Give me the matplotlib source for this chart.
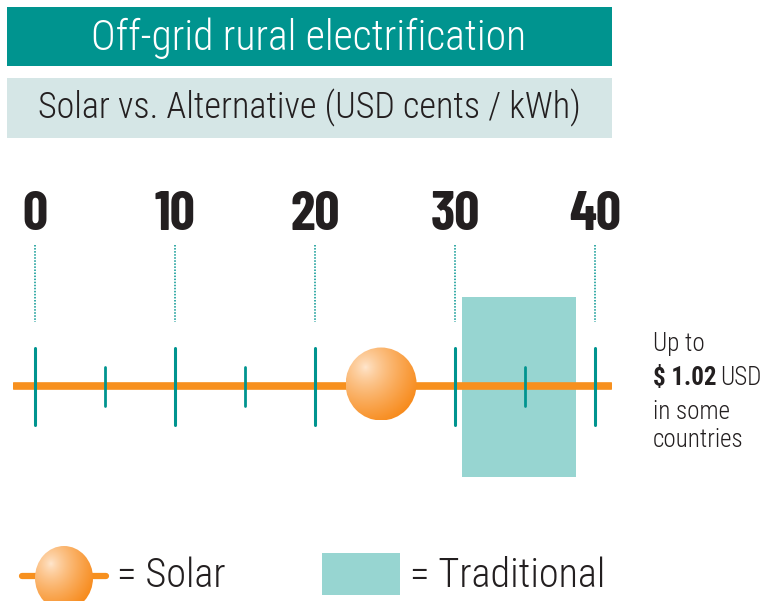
import numpy as np
import matplotlib
matplotlib.use("Agg")
import matplotlib.pyplot as plt
from matplotlib.patches import Rectangle, Ellipse

plt.rcParams['font.family'] = ['Roboto Condensed', 'DejaVu Sans']
num_font = ['Barlow Condensed', 'Roboto Condensed', 'DejaVu Sans']

# data
title = "Off-grid rural electrification"
subtitle = "Solar vs. Alternative (USD cents / kWh)"
major_ticks = [0, 10, 20, 30, 40]
minor_ticks = [5, 15, 35]
solar_cost = 24.7
traditional_low, traditional_high = 30.5, 38.6
note_lines = ["Up to", "$ 1.02", "USD", "in some", "countries"]

orange = "#f7901e"
teal = "#00948f"
box_teal = "#97d5d1"
header_teal = "#00948f"
header_light = "#d5e6e6"
dark = "#231f20"

W, H = 766, 601
fig = plt.figure(figsize=(W / 100, H / 100), dpi=100)

# layout axes in pixel units
ax = fig.add_axes([0, 0, 1, 1])
ax.set_xlim(0, W)
ax.set_ylim(H, 0)
ax.axis('off')

ax.add_patch(Rectangle((7, 7), 605, 59, color=header_teal, lw=0))
ax.text(309, 38, title, color="white", fontsize=30, fontweight='light',
        ha='center', va='center')
ax.add_patch(Rectangle((7, 78), 605, 60, color=header_light, lw=0))
ax.text(309, 108, subtitle, color=dark, fontsize=26, fontweight='light',
        ha='center', va='center')


def ball(a, cx, cy, rx, ry, z=5):
    n = 200
    u, v = np.meshgrid(np.linspace(-1, 1, n), np.linspace(-1, 1, n))
    d = np.hypot(u + 0.45, v + 0.45) / 1.6
    t = np.clip(d, 0, 1) ** 0.75
    c0 = np.array([1.0, 0.91, 0.82])
    c1 = np.array([0.97, 0.55, 0.12])
    img = c0[None, None, :] * (1 - t[..., None]) + c1[None, None, :] * t[..., None]
    im = a.imshow(img, extent=(cx - rx, cx + rx, cy + ry, cy - ry), origin='upper',
                  aspect='auto', zorder=z, interpolation='bilinear')
    clip = Ellipse((cx, cy), 2 * rx, 2 * ry, transform=a.transData, fc='none', ec='none')
    a.add_patch(clip)
    im.set_clip_path(clip)


# scale axes: x in cents/kWh, y in pixels
sc = fig.add_axes([13 / W, 1 - 480 / H, 599 / W, 300 / H])
sc.set_xlim(-1.6, 41.2)
sc.set_ylim(480, 180)
sc.axis('off')
sc.patch.set_alpha(0)

sc.add_patch(Rectangle((traditional_low, 297), traditional_high - traditional_low, 180,
                       color=box_teal, lw=0, zorder=1))
sc.plot([-1.55, 41.15], [386, 386], color=orange, lw=5.5, solid_capstyle='round', zorder=2)
for v in major_ticks:
    sc.plot([v, v], [348, 425], color=teal, lw=2.2, solid_capstyle='round', zorder=3)
    sc.plot([v, v], [245, 322], color=teal, lw=1.1, ls=(0, (1, 1)), zorder=3)
    sc.text(v, 215, str(v), fontsize=40, fontweight='bold', family=num_font,
            color=dark, ha='center', va='center')
for v in minor_ticks:
    sc.plot([v, v], [367, 406], color=teal, lw=2, solid_capstyle='round', zorder=3)
ball(sc, solar_cost, 384, 35.5 / 14, 36.5, z=5)

# note on the right
fs = 18
ax.text(653, 344, note_lines[0], fontsize=fs, fontweight='light', color=dark, va='center')
bold = ax.text(653, 378, note_lines[1], fontsize=fs, fontweight='bold', color=dark, va='center')
ax.annotate(note_lines[2], xy=(1, 0.5), xycoords=bold, xytext=(4, 0),
            textcoords='offset pixels', fontsize=fs, fontweight='light', color=dark,
            va='center', ha='left')
ax.text(653, 412, note_lines[3], fontsize=fs, fontweight='light', color=dark, va='center')
ax.text(653, 440, note_lines[4], fontsize=fs, fontweight='light', color=dark, va='center')

# legend
ax.plot([22, 106], [576, 576], color=orange, lw=4.5, solid_capstyle='round', zorder=4)
ball(ax, 64, 578, 29, 32, z=6)
ax.text(117, 576, "= Solar", fontsize=29, fontweight='light', color=dark, va='center')
ax.add_patch(Rectangle((322, 553), 78, 42, color=box_teal, lw=0))
ax.text(410, 576, "= Traditional", fontsize=29, fontweight='light', color=dark, va='center')

fig.savefig("out.png", dpi=100)
